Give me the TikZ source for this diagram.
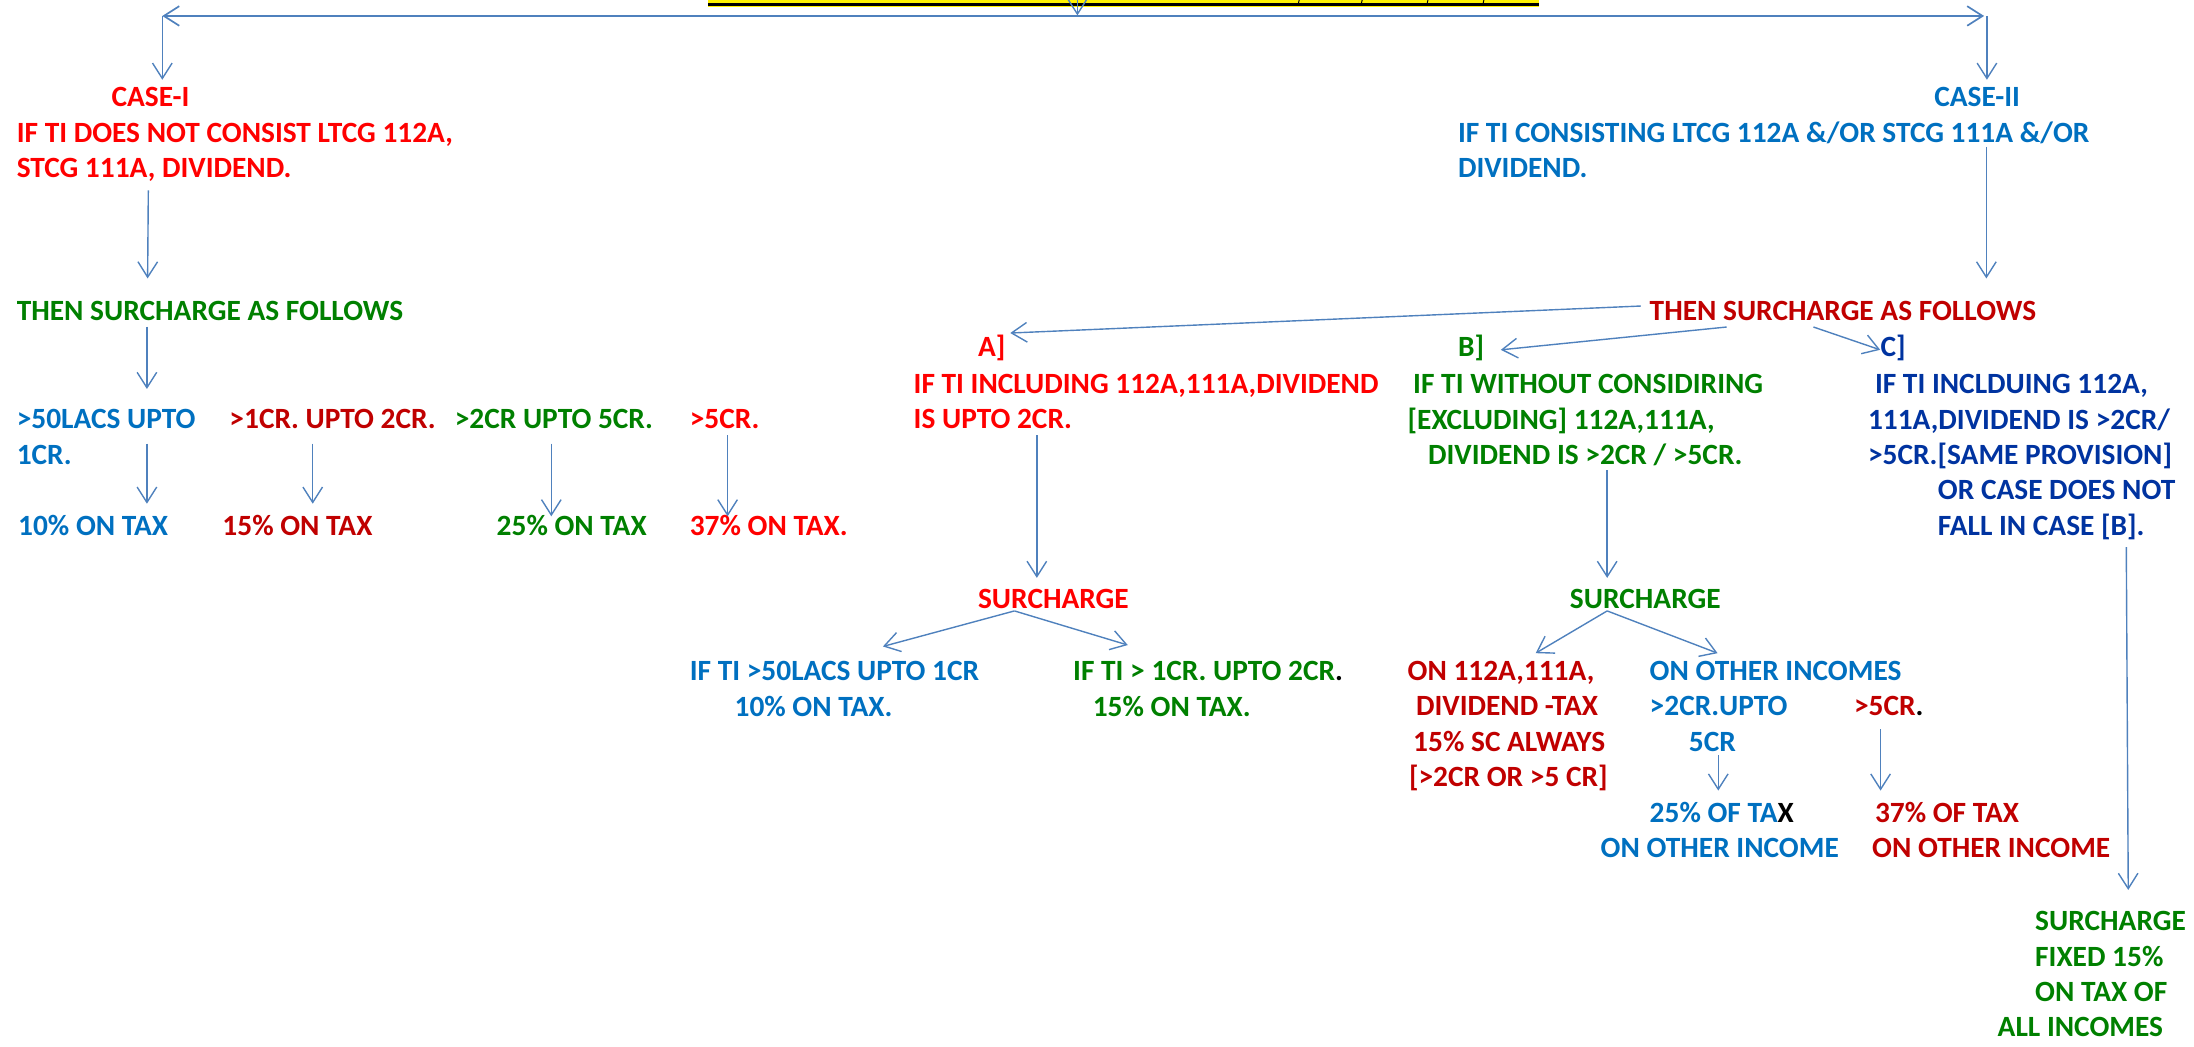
\documentclass[tikz,border=0pt]{standalone}
\usepackage{fontspec}
\setmainfont{Carlito}
\usetikzlibrary{arrows.meta}
\definecolor{cred}{HTML}{FF0000}
\definecolor{cdred}{HTML}{C00000}
\definecolor{cblue}{HTML}{0070C0}
\definecolor{cgreen}{HTML}{008000}
\definecolor{cnavy}{HTML}{0033A0}
\definecolor{carrow}{HTML}{4F81BD}
\begin{document}
\begin{tikzpicture}[x=1pt,y=-1pt,
  txt/.style={inner sep=0pt,outer sep=0pt,anchor=base west,font=\bfseries\fontsize{21}{25}\selectfont},
  arr/.style={draw=carrow,line width=1pt,-{Straight Barb[length=11pt,width=14pt]}},
  toparr/.style={draw=carrow,line width=2pt,{Straight Barb[length=11pt,width=14pt,line width=1.2pt]}-{Straight Barb[length=11pt,width=14pt,line width=1.2pt]}}]
\useasboundingbox (0,0) rectangle (1568,748);
% title bar (cut off)
\fill[yellow] (506,0) rectangle (1100,5.2);
\fill[black] (506,2.1) rectangle (1100,4.5);
\foreach \x in {928,973,1020,1060} \draw[line width=0.7pt] (\x+0.5,0) -- (\x,2.1);
% coordinates
\coordinate (tl) at (116,11.4);
\coordinate (tr) at (1418,11.4);
\coordinate (trr) at (1420,11.4);
\coordinate (tc0) at (770,0);
\coordinate (tc1) at (770,11);
\coordinate (tlb) at (116,57);
\coordinate (trb) at (1420,57);
\draw[toparr] (tl) -- (tr);
\draw[arr] (tc0) -- (tc1);
\draw[arr] (tl) -- (tlb);
\draw[arr] (trr) -- (trb);
% ---------- CASE I ----------
\node[txt,anchor=base,text=cred] (case1) at (107.6,76) {CASE-I};
\node[txt,text=cred] (c1a) at (12,101.5) {IF TI DOES NOT CONSIST LTCG 112A,};
\node[txt,text=cred] (c1b) at (12,126.5) {STCG 111A, DIVIDEND.};
\node[txt,text=cgreen] (then1) at (12,229) {THEN SURCHARGE AS FOLLOWS};
\node[txt,text=cblue] (r1a) at (12,306) {>50LACS UPTO};
\node[txt,text=cblue] (r1b) at (12,332) {1CR.};
\node[txt,text=cdred] (r2) at (164,306) {>1CR. UPTO 2CR.};
\node[txt,text=cgreen] (r3) at (325,306) {>2CR UPTO 5CR.};
\node[txt,text=cred] (r4) at (493,306) {>5CR.};
\node[txt,text=cblue] (t1) at (13,383) {10\% ON TAX};
\node[txt,text=cdred] (t2) at (159,383) {15\% ON TAX};
\node[txt,text=cgreen] (t3) at (355,383) {25\% ON TAX};
\node[txt,text=cred] (t4) at (493,383) {37\% ON TAX.};
\coordinate (p1a) at (106,136); \coordinate (p1b) at (105.5,199);
\coordinate (p2a) at (105,233.5); \coordinate (p2b) at (105,278);
\coordinate (p3a) at (105,317); \coordinate (p3b) at (105,360);
\coordinate (p4a) at (223.5,317); \coordinate (p4b) at (223.5,360);
\coordinate (p5a) at (394,317); \coordinate (p5b) at (394,369);
\coordinate (p6a) at (520,311); \coordinate (p6b) at (520,369);
\draw[arr] (p1a) -- (p1b);
\draw[arr] (p2a) -- (p2b);
\draw[arr] (p3a) -- (p3b);
\draw[arr] (p4a) -- (p4b);
\draw[arr] (p5a) -- (p5b);
\draw[arr] (p6a) -- (p6b);
% ---------- CASE II ----------
\node[txt,anchor=base,text=cblue] (case2) at (1413,76) {CASE-II};
\node[txt,text=cblue] (c2a) at (1042,101.5) {IF TI CONSISTING LTCG 112A \&/OR STCG 111A \&/OR};
\node[txt,text=cblue] (c2b) at (1042,126.5) {DIVIDEND.};
\node[txt,text=cdred] (then2) at (1179,229) {THEN SURCHARGE AS FOLLOWS};
\coordinate (q1a) at (1419.6,105); \coordinate (q1b) at (1419.6,199);
\draw[arr] (q1a) -- (q1b);
% A
\node[txt,text=cred] (aL) at (699,255) {A]};
\node[txt,text=cred] (a1) at (653,281) {IF TI INCLUDING 112A,111A,DIVIDEND};
\node[txt,text=cred] (a2) at (653,306.5) {IS UPTO 2CR.};
% B
\node[txt,text=cgreen] (bL) at (1042,255) {B]};
\node[txt,text=cgreen] (b1) at (1010,281) {IF TI WITHOUT CONSIDIRING};
\node[txt,text=cgreen] (b2) at (1006,306.8) {[EXCLUDING] 112A,111A,};
\node[txt,text=cgreen] (b3) at (1020.6,332) {DIVIDEND IS >2CR / >5CR.};
% C
\node[txt,text=cnavy] (cL) at (1344,255) {C]};
\node[txt,text=cnavy] (cc1) at (1340,281) {IF TI INCLDUING 112A,};
\node[txt,text=cnavy] (cc2) at (1335,306.8) {111A,DIVIDEND IS >2CR/};
\node[txt,text=cnavy] (cc3) at (1335,332) {>5CR.[SAME PROVISION]};
\node[txt,text=cnavy] (cc4) at (1385,357) {OR CASE DOES NOT};
\node[txt,text=cnavy] (cc5) at (1385,383) {FALL IN CASE [B].};
\coordinate (sa0) at (1172.6,218.7); \coordinate (sa1) at (722,238);
\coordinate (sb0) at (1234,233.7); \coordinate (sb1) at (1072.6,250);
\coordinate (sc0) at (1296,233.7); \coordinate (sc1) at (1343.7,250);
\draw[arr] (sa0) -- (sa1);
\draw[arr] (sb0) -- (sb1);
\draw[arr] (sc0) -- (sc1);
% A surcharge
\node[txt,text=cred] (sA) at (699,435) {SURCHARGE};
\node[txt,text=cblue] (sA1) at (493,486) {IF TI >50LACS UPTO 1CR};
\node[txt,text=cblue] (sA2) at (525,512) {10\% ON TAX.};
\node[txt,text=cgreen] (sA3) at (767,486) {IF TI > 1CR. UPTO 2CR{\color{black}.}};
\node[txt,text=cgreen] (sA4) at (781,512) {15\% ON TAX.};
\coordinate (ax0) at (741,311); \coordinate (ax1) at (741,413);
\coordinate (ay) at (725,436.6); \coordinate (ayl) at (631,462); \coordinate (ayr) at (806,461);
\draw[arr] (ax0) -- (ax1);
\draw[arr] (ay) -- (ayl);
\draw[arr] (ay) -- (ayr);
% B surcharge
\node[txt,text=cgreen] (sB) at (1122,435) {SURCHARGE};
\node[txt,text=cdred] (o1) at (1006,486) {ON 112A,111A,};
\node[txt,text=cdred] (o2) at (1012,511.5) {DIVIDEND -TAX};
\node[txt,text=cdred] (o3) at (1010,537) {15\% SC ALWAYS};
\node[txt,text=cdred] (o4) at (1007,562) {[>2CR OR >5 CR]};
\node[txt,text=cblue] (pp1) at (1179,486) {ON OTHER INCOMES};
\node[txt,text=cblue] (pp2) at (1179,511.5) {>2CR.UPTO};
\node[txt,text=cblue] (pp3) at (1207,537) {5CR};
\node[txt,text=cdred] (qq1) at (1325,511.5) {>5CR{\color{black}.}};
\node[txt,text=cblue] (u1) at (1179,588) {25\% OF TA{\color{black}X}};
\node[txt,text=cblue] (u2) at (1144,613) {ON OTHER INCOME};
\node[txt,text=cdred] (v1) at (1340,588) {37\% OF TAX};
\node[txt,text=cdred] (v2) at (1338,613) {ON OTHER INCOME};
\coordinate (bx0) at (1148.6,336); \coordinate (bx1) at (1148.6,413);
\coordinate (by) at (1148.6,436.6); \coordinate (byl) at (1097.5,466.8); \coordinate (byr) at (1227.5,466.8);
\coordinate (bu0) at (1228,539.6); \coordinate (bu1) at (1228,565);
\coordinate (bv0) at (1344,521); \coordinate (bv1) at (1344,565);
\draw[arr] (bx0) -- (bx1);
\draw[arr] (by) -- (byl);
\draw[arr] (by) -- (byr);
\draw[arr] (bu0) -- (bu1);
\draw[arr] (bv0) -- (bv1);
% C result
\node[txt,text=cgreen] (f1) at (1454.5,665) {SURCHARGE};
\node[txt,text=cgreen] (f2) at (1454.5,691) {FIXED 15\%};
\node[txt,text=cgreen] (f3) at (1454.5,716) {ON TAX OF};
\node[txt,text=cgreen] (f4) at (1427.7,741) {ALL INCOMES};
\coordinate (cx0) at (1519.6,391); \coordinate (cx1) at (1521,636);
\draw[arr] (cx0) -- (cx1);
\end{tikzpicture}
\end{document}
